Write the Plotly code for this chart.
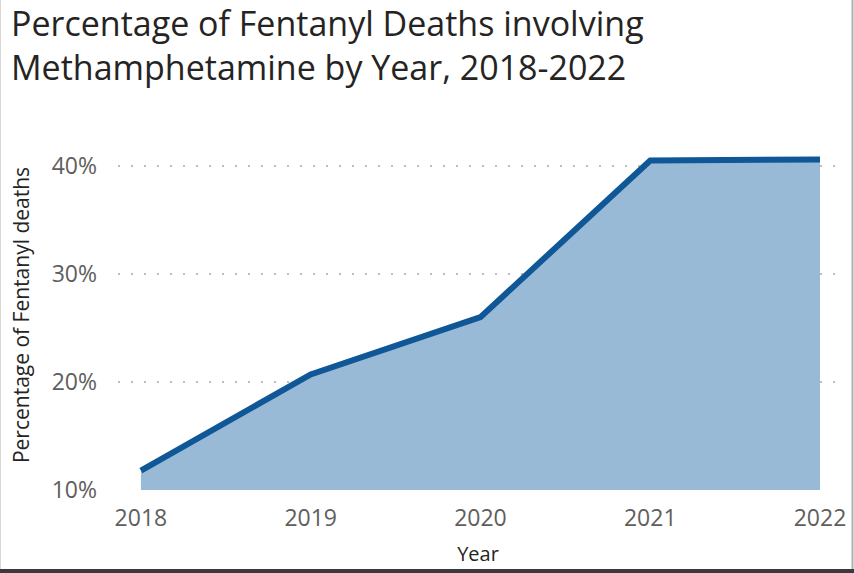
import plotly.graph_objects as go

# Share of fentanyl deaths that also involved methamphetamine
years = [2018, 2019, 2020, 2021, 2022]
meth_share = [0.118, 0.207, 0.260, 0.405, 0.406]
y_ticks = [0.10, 0.20, 0.30, 0.40]
y_tick_labels = ["10%", "20%", "30%", "40%"]
title_lines = ["Percentage of Fentanyl Deaths involving",
               "Methamphetamine by Year, 2018-2022"]

W, H = 854, 573
ML, MR, MT, MB = 118, 16, 140, 83

fig = go.Figure()
fig.add_trace(go.Scatter(
    x=years, y=meth_share, mode="lines",
    line=dict(color="#0F5796", width=6),
    fill="tozeroy", fillcolor="#99BAD6",
    hoverinfo="skip", showlegend=False,
))

pw = W - ML - MR
ph = H - MT - MB


def px_x(v):
    return (v - ML) / pw


def px_y(v):
    return (H - MB - v) / ph


# two-line heading as a single left-aligned block
heading = dict(
    text="<br>".join(title_lines), xref="paper", yref="paper",
    x=px_x(9), y=px_y(45), align="left",
    xanchor="left", yanchor="middle", showarrow=False,
    font=dict(family="Open Sans, sans-serif", size=34, color="#252423"),
)

fig.update_layout(
    width=W, height=H,
    margin=dict(l=ML, r=MR, t=MT, b=MB),
    paper_bgcolor="white", plot_bgcolor="white",
    font=dict(family="Open Sans, sans-serif", color="#605E5C"),
    annotations=[heading],
    xaxis=dict(
        range=[2017.865, 2022.106], automargin=False,
        tickmode="array", tickvals=years, ticktext=[str(y) for y in years],
        showgrid=False, zeroline=False, showline=False,
        tickfont=dict(size=23, color="#605E5C"),
        ticklabelstandoff=12,
        title=dict(text="Year", font=dict(size=20, color="#252423"), standoff=14),
    ),
    yaxis=dict(
        range=[0.10, 0.424], automargin=False,
        tickmode="array", tickvals=y_ticks, ticktext=y_tick_labels,
        showgrid=True, gridcolor="#BEBEBE", griddash="2px,11px", gridwidth=2,
        zeroline=False, showline=False,
        tickfont=dict(size=23, color="#605E5C"),
        ticklabelstandoff=20,
        title=dict(text="Percentage of Fentanyl deaths", font=dict(size=21, color="#252423"), standoff=16),
    ),
    shapes=[
        dict(type="line", xref="paper", yref="paper",
             x0=px_x(0.5), x1=px_x(0.5), y0=px_y(0), y1=px_y(H),
             line=dict(color="#D8D8D8", width=1)),
        dict(type="line", xref="paper", yref="paper",
             x0=px_x(W - 1.5), x1=px_x(W - 1.5), y0=px_y(0), y1=px_y(H),
             line=dict(color="#B0B0B0", width=2)),
        dict(type="line", xref="paper", yref="paper",
             x0=px_x(0), x1=px_x(W), y0=px_y(H - 2), y1=px_y(H - 2),
             line=dict(color="#3A3A3A", width=4)),
    ],
)

fig.write_html("out.html")
